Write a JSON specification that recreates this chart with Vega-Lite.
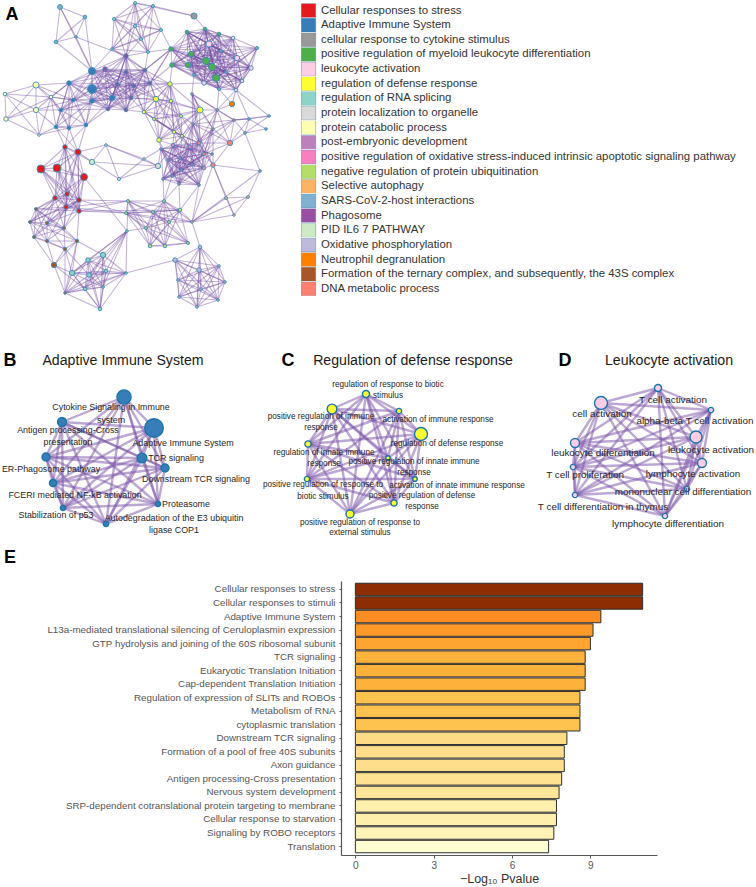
{"$schema":"https://vega.github.io/schema/vega-lite/v6.json","width":756,"height":887,"autosize":{"type":"none"},"padding":0,"background":"white","config":{"view":{"stroke":null},"font":"Liberation Sans"},
"datasets":{
"clusters":[{"c":1,"name":"Cellular responses to stress"},{"c":2,"name":"Adaptive Immune System"},{"c":3,"name":"cellular response to cytokine stimulus"},{"c":4,"name":"positive regulation of myeloid leukocyte differentiation"},{"c":5,"name":"leukocyte activation"},{"c":6,"name":"regulation of defense response"},{"c":7,"name":"regulation of RNA splicing"},{"c":8,"name":"protein localization to organelle"},{"c":9,"name":"protein catabolic process"},{"c":10,"name":"post-embryonic development"},{"c":11,"name":"positive regulation of oxidative stress-induced intrinsic apoptotic signaling pathway"},{"c":12,"name":"negative regulation of protein ubiquitination"},{"c":13,"name":"Selective autophagy"},{"c":14,"name":"SARS-CoV-2-host interactions"},{"c":15,"name":"Phagosome"},{"c":16,"name":"PID IL6 7 PATHWAY"},{"c":17,"name":"Oxidative phosphorylation"},{"c":18,"name":"Neutrophil degranulation"},{"c":19,"name":"Formation of the ternary complex, and subsequently, the 43S complex"},{"c":20,"name":"DNA metabolic process"}],
"nodes":[
{"id":1,"x":60,"y":7,"c":14,"n":24},{"id":2,"x":85,"y":17,"c":14,"n":13},{"id":3,"x":76,"y":37,"c":14,"n":7},{"id":4,"x":56,"y":42,"c":14,"n":13},
{"id":5,"x":135,"y":3,"c":7,"n":9},{"id":6,"x":153,"y":6,"c":7,"n":9},{"id":7,"x":114,"y":19,"c":7,"n":10},{"id":8,"x":135,"y":26,"c":7,"n":10},{"id":9,"x":161,"y":30,"c":7,"n":9},{"id":10,"x":141,"y":39,"c":7,"n":9},{"id":11,"x":112,"y":49,"c":7,"n":7},{"id":12,"x":148,"y":52,"c":7,"n":9},
{"id":13,"x":194,"y":16,"c":3,"n":38},
{"id":14,"x":187,"y":32,"c":4,"n":13},{"id":15,"x":205,"y":29,"c":4,"n":13},{"id":16,"x":219,"y":34,"c":4,"n":13},{"id":17,"x":171,"y":49,"c":4,"n":20},{"id":18,"x":191,"y":54,"c":4,"n":28},{"id":19,"x":206,"y":61,"c":4,"n":50},{"id":20,"x":212,"y":67,"c":4,"n":50},{"id":21,"x":216,"y":78,"c":4,"n":50},{"id":22,"x":188,"y":65,"c":4,"n":28},{"id":23,"x":172,"y":65,"c":4,"n":20},
{"id":24,"x":209,"y":44,"c":5,"n":38},{"id":25,"x":233,"y":38,"c":5,"n":13},{"id":26,"x":257,"y":48,"c":14,"n":10},{"id":27,"x":237,"y":58,"c":5,"n":28},{"id":28,"x":251,"y":68,"c":5,"n":20},{"id":29,"x":242,"y":81,"c":5,"n":13},{"id":30,"x":236,"y":90,"c":5,"n":13},{"id":31,"x":204,"y":83,"c":5,"n":20},{"id":32,"x":221,"y":51,"c":14,"n":7},{"id":33,"x":226,"y":72,"c":14,"n":7},{"id":34,"x":194,"y":75,"c":14,"n":7},{"id":35,"x":219,"y":89,"c":14,"n":10},
{"id":36,"x":92,"y":71,"c":2,"n":50},{"id":37,"x":92,"y":89,"c":2,"n":79},{"id":38,"x":69,"y":83,"c":2,"n":20},{"id":39,"x":73,"y":100,"c":2,"n":13},{"id":40,"x":92,"y":101,"c":2,"n":20},{"id":41,"x":112,"y":98,"c":2,"n":28},{"id":42,"x":61,"y":110,"c":2,"n":13},{"id":43,"x":56,"y":127,"c":2,"n":13},{"id":44,"x":69,"y":128,"c":2,"n":13},{"id":45,"x":86,"y":125,"c":2,"n":13},
{"id":46,"x":105,"y":69,"c":15,"n":20},{"id":47,"x":126,"y":56,"c":15,"n":20},{"id":48,"x":126,"y":72,"c":15,"n":13},{"id":49,"x":145,"y":70,"c":15,"n":13},{"id":50,"x":117,"y":84,"c":15,"n":13},{"id":51,"x":134,"y":86,"c":15,"n":13},{"id":52,"x":150,"y":83,"c":15,"n":13},{"id":53,"x":131,"y":98,"c":15,"n":13},{"id":54,"x":108,"y":109,"c":15,"n":13},{"id":55,"x":126,"y":110,"c":15,"n":13},
{"id":56,"x":36,"y":85,"c":9,"n":38},{"id":57,"x":5,"y":94,"c":9,"n":13},{"id":58,"x":51,"y":97,"c":9,"n":13},{"id":59,"x":36,"y":110,"c":9,"n":28},{"id":60,"x":6,"y":119,"c":9,"n":20},{"id":61,"x":39,"y":135,"c":9,"n":7},
{"id":62,"x":170,"y":84,"c":6,"n":20},{"id":63,"x":156,"y":99,"c":6,"n":28},{"id":64,"x":171,"y":101,"c":6,"n":13},{"id":65,"x":144,"y":112,"c":6,"n":13},{"id":66,"x":154,"y":119,"c":6,"n":9},{"id":67,"x":200,"y":110,"c":6,"n":38},{"id":68,"x":181,"y":116,"c":6,"n":9},{"id":69,"x":174,"y":132,"c":6,"n":13},{"id":70,"x":182,"y":136,"c":6,"n":9},{"id":71,"x":159,"y":140,"c":6,"n":20},
{"id":72,"x":192,"y":94,"c":20,"n":7},{"id":73,"x":217,"y":110,"c":20,"n":7},{"id":74,"x":193,"y":124,"c":20,"n":7},{"id":75,"x":213,"y":129,"c":20,"n":7},{"id":76,"x":234,"y":120,"c":20,"n":7},{"id":77,"x":230,"y":143,"c":20,"n":28},{"id":78,"x":199,"y":143,"c":20,"n":13},{"id":79,"x":204,"y":154,"c":20,"n":13},{"id":80,"x":213,"y":165,"c":20,"n":20},{"id":81,"x":232,"y":104,"c":18,"n":28},
{"id":82,"x":249,"y":119,"c":14,"n":7},{"id":83,"x":269,"y":116,"c":14,"n":7},{"id":84,"x":266,"y":129,"c":14,"n":7},{"id":85,"x":245,"y":133,"c":14,"n":7},
{"id":86,"x":65,"y":147,"c":1,"n":20},{"id":87,"x":78,"y":152,"c":1,"n":38},{"id":88,"x":41,"y":169,"c":1,"n":64},{"id":89,"x":57,"y":168,"c":1,"n":64},{"id":90,"x":84,"y":177,"c":1,"n":50},{"id":91,"x":67,"y":194,"c":1,"n":20},{"id":92,"x":55,"y":198,"c":1,"n":20},{"id":93,"x":79,"y":200,"c":1,"n":20},{"id":94,"x":66,"y":207,"c":1,"n":20},{"id":95,"x":79,"y":211,"c":1,"n":20},
{"id":96,"x":92,"y":162,"c":16,"n":28},{"id":97,"x":106,"y":145,"c":8,"n":7},{"id":98,"x":119,"y":179,"c":8,"n":10},{"id":99,"x":144,"y":159,"c":8,"n":7},{"id":100,"x":158,"y":166,"c":8,"n":28},
{"id":101,"x":173,"y":145,"c":11,"n":13},{"id":102,"x":190,"y":147,"c":11,"n":13},{"id":103,"x":161,"y":149,"c":10,"n":7},{"id":104,"x":204,"y":168,"c":11,"n":13},{"id":105,"x":163,"y":179,"c":10,"n":7},{"id":106,"x":172,"y":176,"c":10,"n":7},{"id":107,"x":179,"y":184,"c":10,"n":7},{"id":108,"x":199,"y":185,"c":10,"n":7},{"id":109,"x":212,"y":154,"c":10,"n":7},{"id":110,"x":260,"y":171,"c":10,"n":7},
{"id":155,"x":168,"y":160,"c":10,"n":7},{"id":156,"x":180,"y":158,"c":10,"n":7},{"id":157,"x":192,"y":165,"c":10,"n":7},{"id":158,"x":181,"y":170,"c":10,"n":7},
{"id":111,"x":128,"y":201,"c":12,"n":9},{"id":112,"x":126,"y":213,"c":12,"n":9},{"id":113,"x":164,"y":201,"c":12,"n":9},{"id":114,"x":153,"y":212,"c":12,"n":9},{"id":115,"x":180,"y":210,"c":12,"n":13},{"id":116,"x":169,"y":222,"c":12,"n":9},{"id":117,"x":146,"y":228,"c":12,"n":9},{"id":118,"x":150,"y":246,"c":12,"n":13},{"id":119,"x":165,"y":246,"c":12,"n":13},{"id":120,"x":188,"y":243,"c":12,"n":9},{"id":121,"x":127,"y":231,"c":7,"n":7},
{"id":122,"x":226,"y":198,"c":13,"n":9},{"id":123,"x":248,"y":197,"c":13,"n":9},{"id":124,"x":234,"y":215,"c":13,"n":7},{"id":125,"x":192,"y":222,"c":13,"n":7},
{"id":126,"x":36,"y":209,"c":19,"n":9},{"id":127,"x":30,"y":222,"c":19,"n":9},{"id":128,"x":47,"y":223,"c":19,"n":9},{"id":129,"x":64,"y":228,"c":19,"n":9},{"id":130,"x":34,"y":237,"c":19,"n":9},{"id":131,"x":47,"y":241,"c":19,"n":9},{"id":132,"x":77,"y":241,"c":19,"n":13},{"id":133,"x":65,"y":249,"c":19,"n":13},{"id":134,"x":54,"y":265,"c":19,"n":28},{"id":135,"x":65,"y":293,"c":19,"n":7},
{"id":136,"x":103,"y":255,"c":7,"n":28},{"id":137,"x":88,"y":260,"c":7,"n":20},{"id":138,"x":72,"y":273,"c":7,"n":28},{"id":139,"x":89,"y":275,"c":7,"n":20},{"id":140,"x":106,"y":271,"c":7,"n":13},{"id":141,"x":126,"y":273,"c":7,"n":7},{"id":142,"x":103,"y":287,"c":7,"n":7},{"id":143,"x":85,"y":289,"c":7,"n":13},{"id":144,"x":100,"y":309,"c":7,"n":13},
{"id":145,"x":175,"y":260,"c":17,"n":20},{"id":146,"x":200,"y":247,"c":17,"n":13},{"id":147,"x":219,"y":266,"c":17,"n":7},{"id":148,"x":199,"y":270,"c":17,"n":20},{"id":149,"x":178,"y":280,"c":17,"n":7},{"id":150,"x":225,"y":282,"c":17,"n":7},{"id":151,"x":201,"y":289,"c":17,"n":7},{"id":152,"x":179,"y":297,"c":17,"n":7},{"id":153,"x":218,"y":300,"c":17,"n":7},{"id":154,"x":197,"y":307,"c":17,"n":7}],
"detailNodes":[
{"id":201,"x":124,"y":397,"c":2,"n":201},{"id":202,"x":154,"y":428,"c":2,"n":346},{"id":203,"x":62,"y":422,"c":2,"n":79},{"id":204,"x":46,"y":457,"c":2,"n":64},{"id":205,"x":142,"y":458,"c":2,"n":95},{"id":206,"x":165,"y":468,"c":2,"n":64},{"id":207,"x":53,"y":483,"c":2,"n":50},{"id":208,"x":158,"y":504,"c":2,"n":28},{"id":209,"x":63,"y":508,"c":2,"n":28},{"id":210,"x":106,"y":524,"c":2,"n":28},
{"id":301,"x":366,"y":394,"c":6,"n":50},{"id":302,"x":332,"y":409,"c":6,"n":95},{"id":303,"x":399,"y":411,"c":6,"n":28},{"id":304,"x":421,"y":434,"c":6,"n":170},{"id":305,"x":308,"y":444,"c":6,"n":38},{"id":306,"x":388,"y":458,"c":6,"n":20},{"id":307,"x":415,"y":479,"c":6,"n":20},{"id":308,"x":307,"y":479,"c":6,"n":28},{"id":309,"x":394,"y":503,"c":6,"n":38},{"id":310,"x":350,"y":514,"c":6,"n":64},
{"id":401,"x":658,"y":388,"c":5,"n":50},{"id":402,"x":711,"y":410,"c":5,"n":28},{"id":403,"x":601,"y":403,"c":5,"n":170},{"id":404,"x":696,"y":437,"c":5,"n":145},{"id":405,"x":575,"y":443,"c":5,"n":80},{"id":406,"x":573,"y":467,"c":5,"n":28},{"id":407,"x":702,"y":463,"c":5,"n":80},{"id":408,"x":687,"y":489,"c":5,"n":28},{"id":409,"x":575,"y":495,"c":5,"n":28},{"id":410,"x":665,"y":516,"c":5,"n":28}],
"edgesA":[
{"s":1,"t":[2,3,4,36]},{"s":2,"t":[3,4,36]},{"s":3,"t":[4,36,47]},{"s":4,"t":[36]},
{"s":5,"t":[6,7,8,9,10,11,12,13,47]},{"s":6,"t":[7,8,9,10,11,12,13]},{"s":7,"t":[8,9,10,11,12,47]},{"s":8,"t":[9,10,11,12,47]},{"s":9,"t":[10,11,12,17]},{"s":10,"t":[11,12,47]},{"s":11,"t":[12,47,36,49]},{"s":12,"t":[47,49,17]},{"s":13,"t":[15]},
{"s":14,"t":[15,16,17,18,19,20,21,22,23,24,25,27,28,31,32,33,34]},{"s":15,"t":[16,17,18,19,20,21,22,23,24,25,32,27,28,29,31,33,34,35]},{"s":16,"t":[17,18,19,20,21,22,23,24,25,27,32,33]},{"s":17,"t":[18,19,20,21,22,23,31,34,49,52,24,32,33]},{"s":18,"t":[19,20,21,22,23,24,31,34,25,27,28,29,32,33,35]},{"s":19,"t":[20,21,22,23,24,27,28,29,31,33,25,26,30,32,34,35]},{"s":20,"t":[21,22,23,24,25,27,28,29,30,31,33,35]},{"s":21,"t":[22,23,24,25,27,28,29,30,31,35,26,32,33,34]},{"s":22,"t":[23,24,31,34,35,25,27,28,29,32,33]},{"s":23,"t":[31,34,52,62,24,32,33,35]},
{"s":24,"t":[25,26,27,28,29,30,31,32,33,34,35]},{"s":25,"t":[26,27,28,29,30,32,33]},{"s":26,"t":[27,28,29,30,32,33]},{"s":27,"t":[28,29,30,31,32,33,35]},{"s":28,"t":[29,30,31,33,35]},{"s":29,"t":[30,31,33,35]},{"s":30,"t":[31,33,35,73]},{"s":31,"t":[32,33,34,35,62]},{"s":32,"t":[33,34,35]},{"s":33,"t":[34,35]},{"s":34,"t":[35,72]},
{"s":36,"t":[37,38,39,40,41,46,47,48,50,54,42,49,51,53,55,52]},{"s":37,"t":[38,39,40,41,46,48,50,54,42,45,47,49,51,53,55,52]},{"s":38,"t":[39,40,41,42,43,44,45,58,46,48,50,54]},{"s":39,"t":[40,41,42,43,44,45,58,46,50,54]},{"s":40,"t":[41,42,43,44,45,54,55,53,46,47,48,50,51]},{"s":41,"t":[42,45,46,48,50,51,53,54,55,47,49,52]},{"s":42,"t":[43,44,45,54]},{"s":43,"t":[44,45,58,86,87]},{"s":44,"t":[45,86,87]},{"s":45,"t":[54,87,86]},
{"s":46,"t":[47,48,49,50,51,52,53,54,55]},{"s":47,"t":[48,49,50,51,52,53,54,55]},{"s":48,"t":[49,50,51,52,53,54,55,62,63,65]},{"s":49,"t":[50,51,52,53,54,55,62,64,17,63,65]},{"s":50,"t":[51,52,53,54,55,63]},{"s":51,"t":[52,53,54,55,62,63,65]},{"s":52,"t":[53,54,55,62,63,17,64,65]},{"s":53,"t":[54,55,63,65,62,64]},{"s":54,"t":[55]},{"s":55,"t":[63,65]},
{"s":56,"t":[57,58,59,60,38,39,42]},{"s":57,"t":[58,59,60,61]},{"s":58,"t":[59,60,61,38,39,42,44]},{"s":59,"t":[60,61,39,42,43]},{"s":60,"t":[61]},{"s":61,"t":[43,44]},
{"s":62,"t":[63,64,65,66,67,68,69,70,71]},{"s":63,"t":[64,65,66,67,68,69,70,71]},{"s":64,"t":[65,66,67,68,69,70,71]},{"s":65,"t":[66,68,69,70,71]},{"s":66,"t":[67,68,69,70,71]},{"s":67,"t":[68,69,70,71,72,73,74,75,78]},{"s":68,"t":[69,70,71,74,78]},{"s":69,"t":[70,71,101,102,78,156]},{"s":70,"t":[71,101,102,104,78,156]},{"s":71,"t":[101,103,155]},
{"s":72,"t":[73,74,75,76,78,79,67]},{"s":73,"t":[74,75,76,77,78,79,81,35]},{"s":74,"t":[75,76,77,78,79,80,101,102,155,156,157,158]},{"s":75,"t":[76,77,78,79,80,102,104,157]},{"s":76,"t":[77,78,79,83,82]},{"s":77,"t":[78,79,80,85]},{"s":78,"t":[79,80,102,101,103,104,105,106,107,108,155,156,157,158]},{"s":79,"t":[80,102,104,101,105,106,107,108,155,156,157,158]},{"s":81,"t":[30,35]},
{"s":82,"t":[83,84,85,76,77,30]},{"s":83,"t":[85,30]},{"s":85,"t":[84,76,110]},
{"s":86,"t":[87,88,89,90,91,92,93,94,95]},{"s":87,"t":[88,89,90,91,92,93,94,95,97]},{"s":88,"t":[89,90,91,92,93,94,95]},{"s":89,"t":[90,91,92,93,94,95]},{"s":90,"t":[91,92,93,94,95,121]},{"s":91,"t":[92,93,94,95]},{"s":92,"t":[93,94,95]},{"s":93,"t":[94,95,111,112]},{"s":94,"t":[95,111,112]},{"s":95,"t":[111,112,115]},
{"s":96,"t":[97,98,100,86,87]},{"s":97,"t":[98,99,100]},{"s":98,"t":[100,99]},{"s":99,"t":[100,103]},{"s":100,"t":[101,103]},
{"s":101,"t":[102,103,104,105,106,107,108,109,155,156,157,158]},{"s":102,"t":[103,104,105,106,107,108,109,155,156,157,158]},{"s":103,"t":[104,105,106,107,108,155,156,157,158]},{"s":104,"t":[105,106,107,108,109,155,156,157,158,80]},{"s":105,"t":[106,107,108,155,156,157,158,113]},{"s":106,"t":[107,108,155,156,157,158,113]},{"s":107,"t":[108,155,156,157,158,113,115]},{"s":108,"t":[155,156,157,158,125,115]},{"s":155,"t":[156,157,158]},{"s":156,"t":[157,158]},{"s":157,"t":[158,109]},{"s":110,"t":[80,123,125]},{"s":80,"t":[122,124,125]},
{"s":111,"t":[112,113,114,115,116,117,118,119]},{"s":112,"t":[113,114,115,116,117,118,119,120,125]},{"s":113,"t":[114,115,116,117,118,119,120]},{"s":114,"t":[115,116,117,118,119,120,125]},{"s":115,"t":[116,117,118,119,120,125]},{"s":116,"t":[117,118,119,120,125]},{"s":117,"t":[118,119,120]},{"s":118,"t":[119,120]},{"s":119,"t":[120]},{"s":121,"t":[136,137,138,139,140,141,142,143,117,111]},
{"s":122,"t":[123,124,125]},{"s":123,"t":[124,125]},{"s":124,"t":[125]},{"s":125,"t":[113,146]},
{"s":126,"t":[127,128,129,130,131,132,91,92,94,95]},{"s":127,"t":[128,129,130,131,132,91,92,94,93]},{"s":128,"t":[129,130,131,133,91,92,93,94,95]},{"s":129,"t":[130,131,132,133,91,92,93,94,95]},{"s":130,"t":[131,133,134,92,93]},{"s":131,"t":[132,133,134,94]},{"s":132,"t":[133,134,135,95,138,136]},{"s":133,"t":[134,135,138,139]},{"s":134,"t":[135,138,143]},{"s":135,"t":[138,143,139,144,137,140,141,142]},
{"s":136,"t":[137,138,139,140,141,142,143,144]},{"s":137,"t":[138,139,140,141,142,143,144]},{"s":138,"t":[139,140,141,142,143,144]},{"s":139,"t":[140,141,142,143,144]},{"s":140,"t":[141,142,143,144]},{"s":141,"t":[142,143,144,145]},{"s":142,"t":[143,144]},{"s":143,"t":[144]},
{"s":145,"t":[146,147,148,149,150,151,152,153,154]},{"s":146,"t":[147,148,149,150,151,152,153,154]},{"s":147,"t":[148,149,150,151,152,153,154]},{"s":148,"t":[149,150,151,152,153,154]},{"s":149,"t":[150,151,152,153,154]},{"s":150,"t":[151,152,153,154]},{"s":151,"t":[152,153,154]},{"s":152,"t":[153,154]},{"s":153,"t":[154]}],
"edgesD":[
{"s":201,"t":[202,203,204,205,206,207,208,209,210]},{"s":202,"t":[203,204,205,206,207,208,209,210]},{"s":203,"t":[204,205,206,207,208,209,210]},{"s":204,"t":[205,206,207,208,209,210]},{"s":205,"t":[206,207,208,209,210]},{"s":206,"t":[207,208,209,210]},{"s":207,"t":[208,209,210]},{"s":208,"t":[209,210]},{"s":209,"t":[210]},
{"s":301,"t":[302,303,304,305,306,307,308,309,310]},{"s":302,"t":[303,304,305,306,307,308,309,310]},{"s":303,"t":[304,305,306,307,308,309,310]},{"s":304,"t":[305,306,307,308,309,310]},{"s":305,"t":[306,307,308,309,310]},{"s":306,"t":[307,308,309,310]},{"s":307,"t":[308,309,310]},{"s":308,"t":[309,310]},{"s":309,"t":[310]},
{"s":401,"t":[402,403,404,405,406,407,408,409,410]},{"s":402,"t":[403,404,405,406,407,408,409,410]},{"s":403,"t":[404,405,406,407,408,409,410]},{"s":404,"t":[405,406,407,408,409,410]},{"s":405,"t":[406,407,408,409,410]},{"s":406,"t":[407,408,409,410]},{"s":407,"t":[408,409,410]},{"s":408,"t":[409,410]},{"s":409,"t":[410]}],
"labels":[
{"p":"B","x":111,"y":407,"t":"Cytokine Signaling in Immune"},{"p":"B","x":111,"y":420,"t":"system"},{"p":"B","x":68,"y":430,"t":"Antigen processing-Cross"},{"p":"B","x":68,"y":442,"t":"presentation"},{"p":"B","x":183,"y":443,"t":"Adaptive Immune System"},{"p":"B","x":176,"y":458,"t":"TCR signaling"},{"p":"B","x":51,"y":469,"t":"ER-Phagosome pathway"},{"p":"B","x":196,"y":479,"t":"Downstream TCR signaling"},{"p":"B","x":75,"y":495,"t":"FCERI mediated NF-kB activation"},{"p":"B","x":186,"y":504,"t":"Proteasome"},{"p":"B","x":56,"y":515,"t":"Stabilization of p53"},{"p":"B","x":174,"y":518,"t":"Autodegradation of the E3 ubiquitin"},{"p":"B","x":174,"y":530,"t":"ligase COP1"},
{"p":"C","x":388,"y":385,"t":"regulation of response to biotic"},{"p":"C","x":388,"y":396,"t":"stimulus"},{"p":"C","x":321,"y":417,"t":"positive regulation of immune"},{"p":"C","x":321,"y":428,"t":"response"},{"p":"C","x":438,"y":420,"t":"activation of immune response"},{"p":"C","x":447,"y":444,"t":"regulation of defense response"},{"p":"C","x":324,"y":453,"t":"regulation of innate immune"},{"p":"C","x":324,"y":464,"t":"response"},{"p":"C","x":414,"y":462,"t":"positive regulation of innate immune"},{"p":"C","x":414,"y":473,"t":"response"},{"p":"C","x":323,"y":485,"t":"positive regulation of response to"},{"p":"C","x":323,"y":497,"t":"biotic stimulus"},{"p":"C","x":457,"y":486,"t":"activation of innate immune response"},{"p":"C","x":422,"y":496,"t":"positive regulation of defense"},{"p":"C","x":422,"y":507,"t":"response"},{"p":"C","x":360,"y":523,"t":"positive regulation of response to"},{"p":"C","x":360,"y":533,"t":"external stimulus"},
{"p":"D","x":673,"y":400,"t":"T cell activation"},{"p":"D","x":602,"y":414,"t":"cell activation"},{"p":"D","x":695,"y":421,"t":"alpha-beta T cell activation"},{"p":"D","x":711,"y":450,"t":"leukocyte activation"},{"p":"D","x":603,"y":453,"t":"leukocyte differentiation"},{"p":"D","x":585,"y":475,"t":"T cell proliferation"},{"p":"D","x":693,"y":474,"t":"lymphocyte activation"},{"p":"D","x":683,"y":492,"t":"mononuclear cell differentiation"},{"p":"D","x":603,"y":507,"t":"T cell differentiation in thymus"},{"p":"D","x":668,"y":524,"t":"lymphocyte differentiation"}],
"titles":[{"x":123,"y":361,"t":"Adaptive Immune System"},{"x":413,"y":361,"t":"Regulation of defense response"},{"x":669,"y":361,"t":"Leukocyte activation"}],
"letters":[{"x":12,"y":15,"t":"A"},{"x":10,"y":361,"t":"B"},{"x":288,"y":361,"t":"C"},{"x":565,"y":361,"t":"D"},{"x":10,"y":558,"t":"E"}],
"bars":[{"term":"Cellular responses to stress","v":11},{"term":"Cellular responses to stimuli","v":11},{"term":"Adaptive Immune System","v":9.4},{"term":"L13a-mediated translational silencing of Ceruloplasmin expression","v":9.1},{"term":"GTP hydrolysis and joining of the 60S ribosomal subunit","v":9},{"term":"TCR signaling","v":8.8},{"term":"Eukaryotic Translation Initiation","v":8.8},{"term":"Cap-dependent Translation Initiation","v":8.8},{"term":"Regulation of expression of SLITs and ROBOs","v":8.6},{"term":"Metabolism of RNA","v":8.6},{"term":"cytoplasmic translation","v":8.6},{"term":"Downstream TCR signaling","v":8.1},{"term":"Formation of a pool of free 40S subunits","v":8},{"term":"Axon guidance","v":8},{"term":"Antigen processing-Cross presentation","v":7.9},{"term":"Nervous system development","v":7.8},{"term":"SRP-dependent cotranslational protein targeting to membrane","v":7.7},{"term":"Cellular response to starvation","v":7.7},{"term":"Signaling by ROBO receptors","v":7.6},{"term":"Translation","v":7.4}]
},
"resolve":{"scale":{"x":"independent","y":"independent","color":"independent"},"axis":{"x":"independent","y":"independent"}},
"layer":[
{"encoding":{"x":{"field":"x","type":"quantitative","axis":null,"scale":{"domain":[0,756],"range":[0,756]}},"y":{"field":"y","type":"quantitative","axis":null,"scale":{"domain":[0,887],"range":[0,887]}}},
"layer":[
{"data":{"name":"edgesA"},"transform":[{"flatten":["t"]},{"lookup":"s","from":{"data":{"name":"nodes"},"key":"id","fields":["x","y"]}},{"lookup":"t","from":{"data":{"name":"nodes"},"key":"id","fields":["x","y"]},"as":["x2","y2"]}],"mark":{"type":"rule","color":"#6f479f","opacity":0.42,"strokeWidth":1.05},"encoding":{"x2":{"field":"x2"},"y2":{"field":"y2"}}},
{"data":{"name":"edgesD"},"transform":[{"flatten":["t"]},{"lookup":"s","from":{"data":{"name":"detailNodes"},"key":"id","fields":["x","y"]}},{"lookup":"t","from":{"data":{"name":"detailNodes"},"key":"id","fields":["x","y"]},"as":["x2","y2"]}],"mark":{"type":"rule","color":"#7a52a8","opacity":0.5,"strokeWidth":2.4},"encoding":{"x2":{"field":"x2"},"y2":{"field":"y2"}}},
{"data":{"name":"nodes"},"transform":[{"lookup":"c","from":{"data":{"name":"clusters"},"key":"c","fields":["name"]}}],"mark":{"type":"point","shape":"circle","filled":true,"opacity":1,"stroke":"#3a8db5","strokeWidth":0.9},"encoding":{"size":{"field":"n","type":"quantitative","legend":null,"scale":{"domain":[0,400],"range":[0,400]}},
"color":{"field":"name","type":"nominal","scale":{"domain":["Cellular responses to stress","Adaptive Immune System","cellular response to cytokine stimulus","positive regulation of myeloid leukocyte differentiation","leukocyte activation","regulation of defense response","regulation of RNA splicing","protein localization to organelle","protein catabolic process","post-embryonic development","positive regulation of oxidative stress-induced intrinsic apoptotic signaling pathway","negative regulation of protein ubiquitination","Selective autophagy","SARS-CoV-2-host interactions","Phagosome","PID IL6 7 PATHWAY","Oxidative phosphorylation","Neutrophil degranulation","Formation of the ternary complex, and subsequently, the 43S complex","DNA metabolic process"],"range":["#e41a1c","#377eb8","#999999","#4daf4a","#fccde5","#ffff33","#8dd3c7","#d9d9d9","#ffffb3","#bc80bd","#f781bf","#b3de69","#fdb462","#80b1d3","#984ea3","#ccebc5","#bebada","#ff7f00","#a65628","#fb8072"]},
"legend":{"orient":"none","legendX":301,"legendY":3.5,"title":null,"symbolType":"square","symbolSize":205,"symbolStrokeWidth":0.4,"symbolStrokeColor":"#cccccc","symbolOpacity":1,"labelFontSize":11.4,"labelColor":"#333333","labelLimit":700,"labelOffset":5,"rowPadding":0.65,"clipHeight":14,"padding":0}}}},
{"data":{"name":"detailNodes"},"transform":[{"lookup":"c","from":{"data":{"name":"clusters"},"key":"c","fields":["name"]}}],"mark":{"type":"point","shape":"circle","filled":true,"opacity":1,"stroke":"#1a75a8","strokeWidth":1.4},"encoding":{"size":{"field":"n","type":"quantitative","legend":null,"scale":{"domain":[0,400],"range":[0,400]}},"color":{"field":"name","type":"nominal"}}},
{"data":{"name":"labels"},"transform":[{"filter":"datum.p==='B'"}],"mark":{"type":"text","align":"center","baseline":"middle","color":"#262626","fontSize":8.9},"encoding":{"text":{"field":"t"}}},
{"data":{"name":"labels"},"transform":[{"filter":"datum.p==='C'"}],"mark":{"type":"text","align":"center","baseline":"middle","color":"#262626","fontSize":8.2},"encoding":{"text":{"field":"t"}}},
{"data":{"name":"labels"},"transform":[{"filter":"datum.p==='D'"}],"mark":{"type":"text","align":"center","baseline":"middle","color":"#262626","fontSize":9.9},"encoding":{"text":{"field":"t"}}},
{"data":{"name":"titles"},"mark":{"type":"text","align":"center","baseline":"middle","fontSize":14.15,"color":"#1a1a1a"},"encoding":{"text":{"field":"t"}}},
{"data":{"name":"letters"},"mark":{"type":"text","align":"center","baseline":"middle","fontSize":18,"fontWeight":"bold","color":"#000000"},"encoding":{"text":{"field":"t"}}}
]},
{"data":{"name":"bars"},"mark":{"type":"bar","stroke":"#2e2e2e","strokeWidth":1},"encoding":{
"x":{"field":"v","type":"quantitative","stack":null,"scale":{"domain":[-0.55,11.55],"range":[341,657],"nice":false,"zero":false},"axis":{"values":[0,3,6,9],"title":"−Log₁₀ Pvalue","offset":-32,"grid":false,"domainColor":"#555555","domainWidth":1.2,"tickColor":"#555555","tickSize":3,"labelColor":"#555555","labelFontSize":10,"titleFontSize":12.5,"titleFontWeight":"normal","titleColor":"#333333","titlePadding":2,"labelPadding":2}},
"y":{"field":"term","type":"nominal","sort":null,"scale":{"range":[581,855],"paddingInner":0.08,"paddingOuter":0.165},"axis":{"title":null,"offset":-341,"grid":false,"domainColor":"#555555","domainWidth":1.2,"tickColor":"#555555","tickSize":2,"labelColor":"#555555","labelFontSize":9.8,"labelLimit":400,"labelPadding":4}},
"color":{"field":"v","type":"quantitative","legend":null,"scale":{"domain":[7.4,7.6,7.7,7.8,8,8.1,8.6,8.8,9,9.1,9.4,11],"range":["#ffffd4","#fff3b8","#feefad","#fee598","#fede8a","#fedc85","#fec24f","#feb13b","#fea431","#fe9a29","#fb8d22","#8c2d04"]}}}}
]}
